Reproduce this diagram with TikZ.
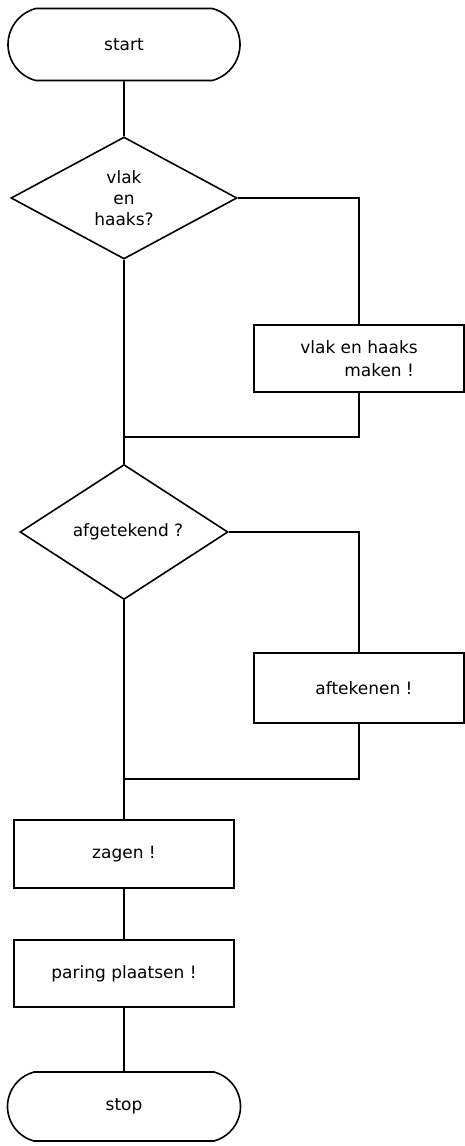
\documentclass[tikz,border=0pt]{standalone}
\usepackage{fontspec}
\setmainfont{DejaVu Sans}
\usetikzlibrary{shapes.geometric,shapes.misc}

\begin{document}
\begin{tikzpicture}[x=1pt,y=-1pt,
    line width=1.6pt,
    font=\fontsize{17}{23}\selectfont,
    terminal/.style={draw, rounded rectangle, rounded rectangle arc length=150,
      minimum width=232pt, minimum height=72pt, inner sep=0pt},
    decision/.style={draw, diamond, inner sep=0pt, align=center},
    action/.style={draw, rectangle, minimum width=220pt, minimum height=68pt,
      inner sep=0pt, align=center}
  ]
    \useasboundingbox (0,0) rectangle (465,1146);

    % main column
    \node[terminal] (start) at (124,44.5) {start};
    \node[decision, minimum width=226pt, minimum height=122pt] (vh) at (124,198)
      {vlak\\[-2pt]en\\[-2pt]haaks?};
    \node[decision, minimum width=208pt, minimum height=119pt] (af) at (124,532)
      {\hspace*{8pt}afgetekend ?};
    \node[action] (zagen) at (124,854) {zagen !};
    \node[action, minimum height=67pt] (paring) at (124,973.5) {paring plaatsen !};
    \node[terminal, minimum width=233pt, minimum height=69pt] (stop) at (124,1106.5) {stop};

    % side branches
    \node[action, minimum width=210pt, minimum height=67pt, align=left] (maken) at (359,358.5)
      {vlak en haaks\\\hspace*{44pt}maken !};
    \node[action, minimum width=210pt, minimum height=70pt] (aftek) at (359,688)
      {\hspace*{10pt}aftekenen !};

    \coordinate (j1) at (124,437);
    \coordinate (j2) at (124,779);

    %\foreach \p in {j1,j2} \fill[red] (\p) circle (3pt);

    \draw (start) -- (vh);
    \draw (vh.south) -- (j1) -- (af.north);
    \draw (vh.east) -| (maken.north);
    \draw (maken.south) |- (j1);
    \draw (af.south) -- (j2) -- (zagen.north);
    \draw (af.east) -| (aftek.north);
    \draw (aftek.south) |- (j2);
    \draw (zagen) -- (paring);
    \draw (paring) -- (stop);
  \end{tikzpicture}
\end{document}
